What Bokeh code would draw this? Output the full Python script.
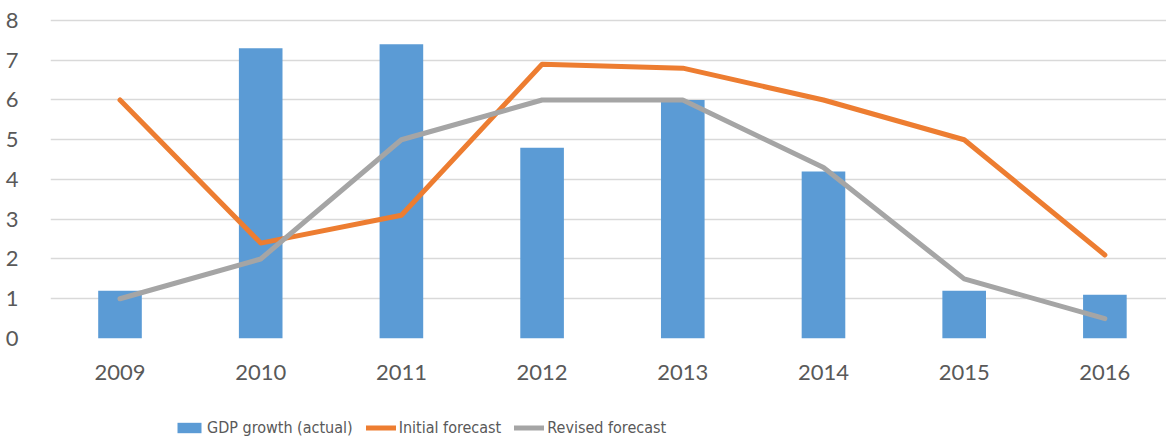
from bokeh.plotting import figure
from bokeh.layouts import column
from bokeh.models import Range1d, FixedTicker, Legend, LegendItem, ColumnDataSource
from bokeh.embed import file_html
from bokeh.resources import INLINE

years = ["2009", "2010", "2011", "2012", "2013", "2014", "2015", "2016"]
gdp_actual = [1.2, 7.3, 7.4, 4.8, 6.0, 4.2, 1.2, 1.1]
initial_forecast = [6.0, 2.4, 3.1, 6.9, 6.8, 6.0, 5.0, 2.1]
revised_forecast = [1.0, 2.0, 5.0, 6.0, 6.0, 4.3, 1.5, 0.5]
y_ticks = [0, 1, 2, 3, 4, 5, 6, 7, 8]

BLUE = "#5B9BD5"
ORANGE = "#ED7D31"
GRAY = "#A5A5A5"
TEXT = "#595959"
FONT = "Lato"

xs = list(range(len(years)))
src = ColumnDataSource(dict(x=xs, gdp=gdp_actual, ini=initial_forecast, rev=revised_forecast))


def draw(fig):
    b = fig.vbar(x="x", top="gdp", width=0.31, source=src, fill_color=BLUE, line_color=None)
    a = fig.line(x="x", y="ini", source=src, line_color=ORANGE, line_width=5,
                 line_cap="round", line_join="round")
    c = fig.line(x="x", y="rev", source=src, line_color=GRAY, line_width=5,
                 line_cap="round", line_join="round")
    return b, a, c


p = figure(width=1166, height=395,
           x_range=Range1d(-0.494, 7.438), y_range=Range1d(0, 8.1),
           output_backend="svg", toolbar_location=None,
           min_border_left=50, min_border_right=0, min_border_top=16, min_border_bottom=57)
p.outline_line_color = None
p.background_fill_color = "white"
p.border_fill_color = "white"
draw(p)

p.xgrid.visible = False
p.ygrid.ticker = FixedTicker(ticks=y_ticks)
p.ygrid.grid_line_color = "#D9D9D9"
p.ygrid.grid_line_width = 1.3

p.yaxis.ticker = FixedTicker(ticks=y_ticks)
p.xaxis.ticker = FixedTicker(ticks=xs)
p.xaxis.major_label_overrides = {i: y for i, y in zip(xs, years)}
for ax in (p.xaxis, p.yaxis):
    ax.axis_line_color = None
    ax.major_tick_line_color = None
    ax.minor_tick_line_color = None
    ax.major_label_text_font = FONT
    ax.major_label_text_font_size = "22px"
    ax.major_label_text_color = TEXT
p.yaxis.major_label_standoff = 26
p.xaxis.major_label_standoff = 20

# legend strip below the chart (its glyphs lie outside its visible range)
lg = figure(width=1166, height=46, x_range=Range1d(100, 101), y_range=Range1d(100, 101),
            output_backend="svg", toolbar_location=None,
            x_axis_location=None, y_axis_location=None,
            min_border_left=0, min_border_right=0, min_border_top=0, min_border_bottom=0)
lg.outline_line_color = None
lg.grid.visible = False
lg.border_fill_color = "white"
lb, la, lc = draw(lg)

legend = Legend(items=[
    LegendItem(label="GDP growth (actual)", renderers=[lb]),
    LegendItem(label="Initial forecast", renderers=[la]),
    LegendItem(label="Revised forecast", renderers=[lc]),
], orientation="horizontal", location=(124, 4),
    glyph_width=30, glyph_height=13, label_standoff=3, spacing=13,
    padding=0, margin=0, border_line_color=None, background_fill_alpha=0,
    label_text_font="DejaVu Sans Condensed", label_text_font_size="16px",
    label_text_color=TEXT)
lg.add_layout(legend, "center")

layout = column(p, lg, spacing=0)
open("out.html", "w").write(file_html(layout, INLINE))
